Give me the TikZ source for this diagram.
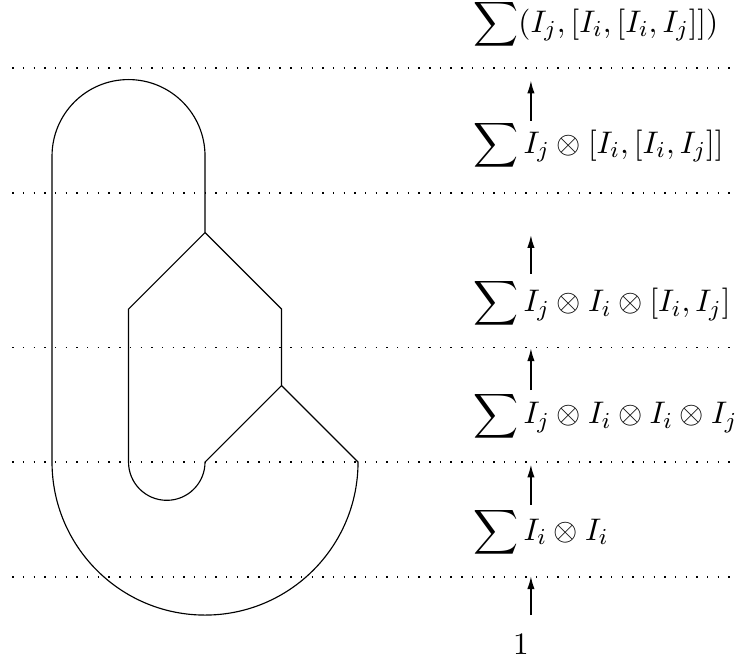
\documentclass[tikz,border=0pt]{standalone}
\usepackage{amsmath}
\usepackage{tikz}
\usetikzlibrary{arrows.meta}

\begin{document}
\begin{tikzpicture}[
  x=0.9433cm, y=0.9433cm,
  font=\fontsize{10.95}{13.6}\selectfont,
  level/.style={line width=0.5pt, dash pattern=on 0.5pt off 3.25pt},
  term/.style={anchor=west, inner sep=0pt},
  arr/.style={-{Latex[length=4.6pt,width=2.6pt]}, semithick}
]
\useasboundingbox (-2.68,-2.6) rectangle (6.98,6.04);
% levels
\foreach \y in {-1.5,0,1.5,3.52,5.15}
  \draw[level] (-2.52,\y) -- (7,\y);
% the diagram
\draw (0,3) -- (0,4) arc[start angle=0, end angle=180, radius=1]
  -- (-2,0) arc[start angle=180, end angle=360, radius=2]
  -- (1,1) -- (0,0) arc[start angle=0, end angle=-180, radius=0.5]
  -- (-1,2) -- (0,3) -- (1,2) -- (1,1);
% terms
\node[inner sep=0pt] (l0) at (4.13,-2.38) {$1$};
\node[term] (l1) at (3.5,-0.92) {$\displaystyle\sum I_i\otimes I_i$};
\node[term] (l2) at (3.5,0.6) {$\displaystyle\sum I_j\otimes I_i\otimes I_i\otimes I_j$};
\node[term] (l3) at (3.5,2.07) {$\displaystyle\sum I_j\otimes I_i\otimes[I_i,I_j]$};
\node[term] (l4) at (3.5,4.14) {$\displaystyle\sum I_j\otimes[I_i,[I_i,I_j]]$};
\node[term] (l5) at (3.5,5.72) {$\displaystyle\sum(I_j,[I_i,[I_i,I_j]])$};
% maps
\foreach \i/\s/\e in {0/-2/-1.49, 1/-0.56/-0.03, 2/0.94/1.49, 3/2.46/2.97, 4/4.46/4.99} {
  \coordinate (t\i) at (4.26,\s);
  \coordinate (h\i) at (4.26,\e);
  \draw[arr] (t\i) -- (h\i);
}
\end{tikzpicture}
\end{document}
